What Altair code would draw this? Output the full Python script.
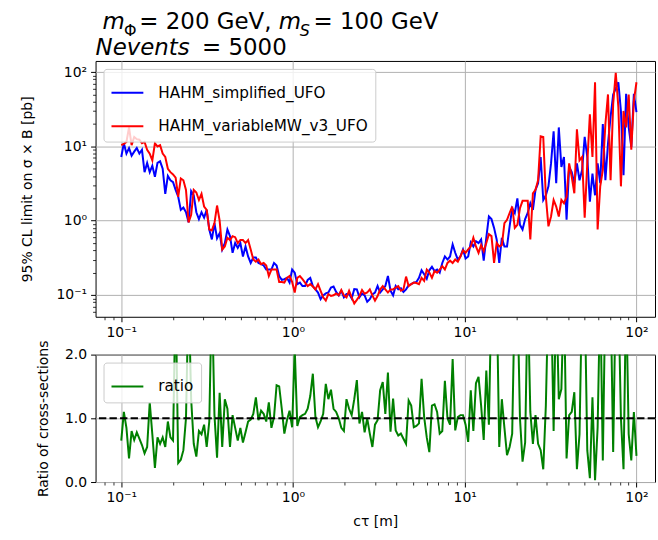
import altair as alt
import numpy as np
import pandas as pd

# ---------------- data ----------------
ct = np.logspace(-1, 2, 200)

series_names = ["HAHM_simplified_UFO", "HAHM_variableMW_v3_UFO"]
ratio_name = ["ratio"]

blue = [
    7.2, 11, 8, 9.5, 7.5, 8.5, 9.5, 8, 9, 4.5,
    6, 4.5, 5.5, 3.9, 6, 6.3, 5, 2.3, 4, 3.5,
    3.3, 2.6, 2.1, 1.4, 1.5, 1.3, 0.95, 2.5, 2.2, 1.3,
    1.05, 1.3, 1.1, 1.4, 0.76, 0.56, 0.93, 0.58, 0.68, 0.41,
    0.5, 0.76, 0.62, 0.37, 0.5, 0.43, 0.5, 0.33, 0.45, 0.33,
    0.27, 0.32, 0.32, 0.27, 0.26, 0.25, 0.22, 0.22, 0.22, 0.27,
    0.25, 0.18, 0.16, 0.163, 0.17, 0.147, 0.22, 0.2, 0.14, 0.147,
    0.132, 0.132, 0.16, 0.17, 0.132, 0.119, 0.108, 0.088, 0.099, 0.105,
    0.108, 0.126, 0.13, 0.11, 0.099, 0.114, 0.093, 0.103, 0.103, 0.09,
    0.12, 0.119, 0.093, 0.105, 0.099, 0.081, 0.088, 0.102, 0.108, 0.132,
    0.108, 0.119, 0.132, 0.18, 0.114, 0.099, 0.132, 0.119, 0.123, 0.11,
    0.119, 0.135, 0.14, 0.147, 0.15, 0.17, 0.215, 0.19, 0.165, 0.215,
    0.24, 0.21, 0.22, 0.2, 0.27, 0.33, 0.3, 0.33, 0.48, 0.37,
    0.3, 0.33, 0.41, 0.31, 0.33, 0.51, 0.45, 0.53, 0.5, 0.56,
    0.29, 0.59, 1.14, 1.05, 0.8, 0.56, 0.27, 0.59, 0.45, 0.45,
    0.84, 1.47, 1.27, 2.0, 0.88, 0.76, 1.05, 1.27, 1.72, 1.4,
    2.6, 3.2, 7.2, 1.9, 2.2, 2.9, 5.9, 16, 3.2, 18,
    5.3, 7.2, 1.03, 5.3, 4.5, 3.2, 5.9, 3.5, 4.8, 13.4,
    7.2, 1.8, 4.3, 2.2, 5.9, 3.2, 20, 3.5, 10.9, 25,
    50, 60, 73, 30, 4.1, 51, 18, 9.85, 51, 29,
]

red = [
    10.4, 10.8, 11.5, 18, 10.4, 13.4, 12.5, 12.3, 11, 11.5,
    9, 8, 6.5, 11, 10, 10.4, 8, 7.2, 5.0, 4.5,
    4.2, 3.8, 2.1, 3.7, 3.5, 2.6, 0.95, 1.2, 2.6, 2.4,
    1.9, 2.3, 1.55, 1.4, 0.76, 0.74, 0.93, 1.6, 1.0, 0.41,
    0.45, 0.59, 0.55, 0.62, 0.6, 0.5, 0.55, 0.55, 0.5, 0.55,
    0.41, 0.30, 0.28, 0.3, 0.26, 0.27, 0.25, 0.18, 0.22, 0.22,
    0.22, 0.15, 0.15, 0.147, 0.17, 0.18, 0.15, 0.108, 0.17, 0.18,
    0.163, 0.147, 0.132, 0.14, 0.13, 0.119, 0.14, 0.114, 0.093, 0.084,
    0.103, 0.097, 0.099, 0.105, 0.099, 0.117, 0.099, 0.093, 0.114, 0.093,
    0.077, 0.086, 0.097, 0.117, 0.104, 0.108, 0.119, 0.099, 0.084, 0.097,
    0.119, 0.132, 0.119, 0.108, 0.119, 0.119, 0.126, 0.132, 0.114, 0.119,
    0.177, 0.132, 0.14, 0.147, 0.145, 0.14, 0.17, 0.155, 0.22, 0.2,
    0.17, 0.21, 0.2, 0.22, 0.245, 0.22, 0.27, 0.29, 0.27, 0.3,
    0.28, 0.33, 0.4, 0.37, 0.41, 0.45, 0.59, 0.45, 0.37, 0.47,
    0.39, 0.5, 0.66, 0.62, 0.27, 0.5, 0.45, 0.47, 0.93, 1.03,
    1.27, 1.55, 0.8, 0.88, 1.47, 1.85, 1.85, 1.85, 0.56, 2.34,
    2.6, 3.5, 13.7, 13.4, 2.1, 0.84, 1.14, 1.9, 1.55, 1.14,
    1.9, 1.72, 2.1, 5.9, 3.9, 2.34, 17, 6.5, 7.2, 1.1,
    5.9, 27, 7.2, 73, 0.76, 2.9, 4.8, 20, 50, 3.5,
    37, 98, 34, 2.9, 30, 18, 50, 9, 41, 73,
]

ratio = [
    0.65, 1.1, 0.85, 0.37, 0.8, 0.66, 0.78, 0.68, 0.58, 0.45,
    0.55, 1.25, 0.75, 0.22, 0.7, 0.6, 0.7, 0.55, 0.95, 0.7,
    0.65, 3.0, 0.3, 0.35, 0.5, 1.0, 3.0, 1.3, 0.6, 0.4,
    0.8, 0.75, 0.9, 0.55, 0.95, 3.0, 1.05, 0.38, 1.4, 0.55,
    1.3, 1.15, 0.55, 1.05, 0.85, 0.65, 0.85, 0.62, 0.78, 0.95,
    0.98, 1.07, 1.33, 0.97, 1.12, 1.07, 0.95, 1.25, 0.85, 1.02,
    1.52, 1.5, 1.15, 0.76, 0.97, 1.12, 0.86, 2.1, 0.88, 1.02,
    1.05, 1.07, 1.15, 1.35, 1.7, 1.02, 0.86, 0.95, 1.07, 1.54,
    1.3, 1.45, 1.15, 1.1, 1.0, 0.85, 0.8, 1.3, 1.15, 1.05,
    1.3, 1.6, 0.92, 1.1, 0.78, 1.0, 0.76, 0.55, 0.9, 0.97,
    1.44, 1.57, 1.07, 1.72, 0.79, 1.31, 0.81, 0.73, 0.76, 0.68,
    0.6, 1.28, 1.2, 0.86, 0.88, 0.92, 1.62, 1.02, 0.7, 0.47,
    1.2, 1.22, 1.1, 0.76, 0.8, 1.59, 1.0, 0.9, 1.93, 0.81,
    1.02, 1.05, 1.05, 0.9, 0.63, 1.44, 0.8, 1.55, 1.65, 1.2,
    0.66, 1.75, 0.9, 3.0, 3.0, 3.0, 0.55, 1.3, 0.85, 0.42,
    0.55, 0.76, 3.0, 3.0, 1.0, 0.32, 0.62, 3.0, 1.1, 0.6,
    1.05, 0.6, 0.5, 0.2, 1.2, 3.0, 3.0, 0.8, 3.0, 1.3,
    1.46, 3.0, 0.37, 1.05, 1.1, 1.41, 0.2, 0.75, 3.0, 3.0,
    0.5, 0.06, 1.33, 0.03, 0.86, 3.0, 0.34, 3.0, 3.0, 3.0,
    0.47, 3.0, 3.0, 1.0, 0.2, 3.0, 0.75, 0.34, 1.1, 0.41,
]

title_line1 = ["m", "Φ", "= 200 GeV,", "m", "S", "= 100 GeV"]
title_line2 = ["Nevents", "= 5000"]
x_major = [0.1, 1, 10, 100]
x_minor = [0.08, 0.09] + [k / 10 for k in range(2, 10)] + list(range(2, 10)) + [k * 10 for k in range(2, 10)]
y_minor = [0.06, 0.07, 0.08, 0.09] + [k / 10 for k in range(2, 10)] + list(range(2, 10)) + [k * 10 for k in range(2, 10)]
ratio_ticks = [0, 0.5, 1.0, 1.5, 2.0]
ref_line = [1.0]

assert len(blue) == 200 and len(red) == 200 and len(ratio) == 200

# ---------------- tables ----------------
df_top = pd.DataFrame({
    "ct": np.concatenate([ct, ct]),
    "limit": blue + red,
    "model": [series_names[0]] * len(blue) + [series_names[1]] * len(red),
})
df_ratio = pd.DataFrame({"ct": ct, "ratio": ratio, "label": ratio_name[0]})
df_ref = pd.DataFrame({"ref": ref_line})

# ---------------- style ----------------
FONT = "DejaVu Sans"
W, H_TOP, H_BOT = 562, 257, 128
X_DOM = [10 ** -1.1496, 10 ** 2.108]
Y_DOM = [10 ** -1.293, 10 ** 2.15]
LOG_LABELS = ("datum.value < 0.5 ? '10⁻¹' : datum.value < 5 ? '10⁰' : "
              "datum.value < 50 ? '10¹' : '10²'")
TFS, SFS = 23, 16

x_scale = alt.Scale(type="log", domain=X_DOM, nice=False)
y_scale = alt.Scale(type="log", domain=Y_DOM, nice=False)
r_scale = alt.Scale(domain=[0, 2], nice=False, zero=False)


def legend(offset=8):
    return alt.Legend(
        title=None, orient="top-left", offset=offset, padding=7,
        fillColor="rgba(255,255,255,0.8)", strokeColor="#cccccc", cornerRadius=3,
        symbolType="stroke", symbolSize=1024, symbolStrokeWidth=2,
        labelFontSize=15.3, labelFont=FONT, labelColor="black", labelLimit=0,
        labelOffset=14, rowPadding=7.5,
    )


def minor_axis(orient, values):
    return alt.Axis(values=values, labels=False, grid=False, domain=False,
                    tickSize=3, tickWidth=0.8, tickColor="black",
                    orient=orient, title=None)


def text_piece(s, x, y, size, italic):
    return alt.Chart(pd.DataFrame({"t": [s]})).mark_text(
        align="left", baseline="alphabetic", font=FONT, fontSize=size,
        fontStyle="italic" if italic else "normal", color="black",
    ).encode(x=alt.value(x), y=alt.value(y), text="t:N")


# ---------------- top panel ----------------
lines = alt.Chart(df_top).mark_line(strokeWidth=2, clip=True).encode(
    x=alt.X("ct:Q", scale=x_scale,
            axis=alt.Axis(values=x_major, labelExpr=LOG_LABELS, title=None,
                          grid=True, labelFlush=False)),
    y=alt.Y("limit:Q", scale=y_scale,
            axis=alt.Axis(values=x_major, labelExpr=LOG_LABELS, grid=True,
                          title="95% CL limit on σ × B [pb]",
                          titleX=-61, titleY=H_TOP / 2)),
    color=alt.Color("model:N",
                    scale=alt.Scale(domain=series_names, range=["#0000ff", "#ff0000"]),
                    legend=legend(8)),
)
top_minor_x = alt.Chart(df_top).mark_tick(opacity=0).encode(
    x=alt.X("ct:Q", scale=x_scale, axis=minor_axis("bottom", x_minor)))
top_minor_y = alt.Chart(df_top).mark_tick(opacity=0).encode(
    y=alt.Y("limit:Q", scale=y_scale, axis=minor_axis("left", y_minor)))

T1, T2 = -32, -5.5
SUB = -25.5
texts = [
    text_piece(title_line1[0], 7, T1, TFS, True),
    text_piece(title_line1[1], 28.5, SUB, SFS, False),
    text_piece(title_line1[2], 44, T1, TFS, False),
    text_piece(title_line1[3], 184, T1, TFS, True),
    text_piece(title_line1[4], 205, SUB, SFS, True),
    text_piece(title_line1[5], 219, T1, TFS, False),
    text_piece(title_line2[0], 0, T2, TFS, True),
    text_piece(title_line2[1], 107, T2, TFS, False),
]

top = alt.layer(lines, top_minor_x, top_minor_y, *texts).resolve_axis(
    x="independent", y="independent"
).properties(width=W, height=H_TOP)

# ---------------- bottom panel ----------------
ratio_line = alt.Chart(df_ratio).mark_line(strokeWidth=2, clip=True).encode(
    x=alt.X("ct:Q", scale=x_scale,
            axis=alt.Axis(values=x_major, labelExpr=LOG_LABELS, grid=True,
                          labelFlush=False, title="cτ [m]",
                          titleX=W / 2, titleY=33)),
    y=alt.Y("ratio:Q", scale=r_scale,
            axis=alt.Axis(values=ratio_ticks, format=".1f", grid=True,
                          title="Ratio of cross-sections",
                          titleX=-45, titleY=H_BOT / 2)),
    color=alt.Color("label:N",
                    scale=alt.Scale(domain=ratio_name, range=["#008000"]),
                    legend=legend(8)),
)
hline = alt.Chart(df_ref).mark_rule(color="black", strokeWidth=2,
                                    strokeDash=[7.4, 3.2]).encode(
    y=alt.Y("ref:Q", scale=r_scale, title="Ratio of cross-sections"))
bot_minor_x = alt.Chart(df_ratio).mark_tick(opacity=0).encode(
    x=alt.X("ct:Q", scale=x_scale, axis=minor_axis("bottom", x_minor)))

bottom = alt.layer(ratio_line, hline, bot_minor_x).resolve_axis(
    x="independent"
).properties(width=W, height=H_BOT)

chart = alt.vconcat(top, bottom, spacing=38, bounds="flush").resolve_scale(
    color="independent"
).properties(
    padding={"left": 20, "top": 9, "right": 1, "bottom": 5}
).configure(font=FONT).configure_view(
    stroke="black", strokeWidth=1
).configure_axis(
    labelFont=FONT, titleFont=FONT, labelColor="black", titleColor="black",
    labelFontSize=14, titleFontSize=14, titleFontWeight="normal",
    tickColor="black", tickSize=5, tickWidth=1, labelPadding=4,
    gridColor="#b0b0b0", gridWidth=1, domain=False,
)

chart.save("out.html", embed_options={"renderer": "svg", "actions": False})
